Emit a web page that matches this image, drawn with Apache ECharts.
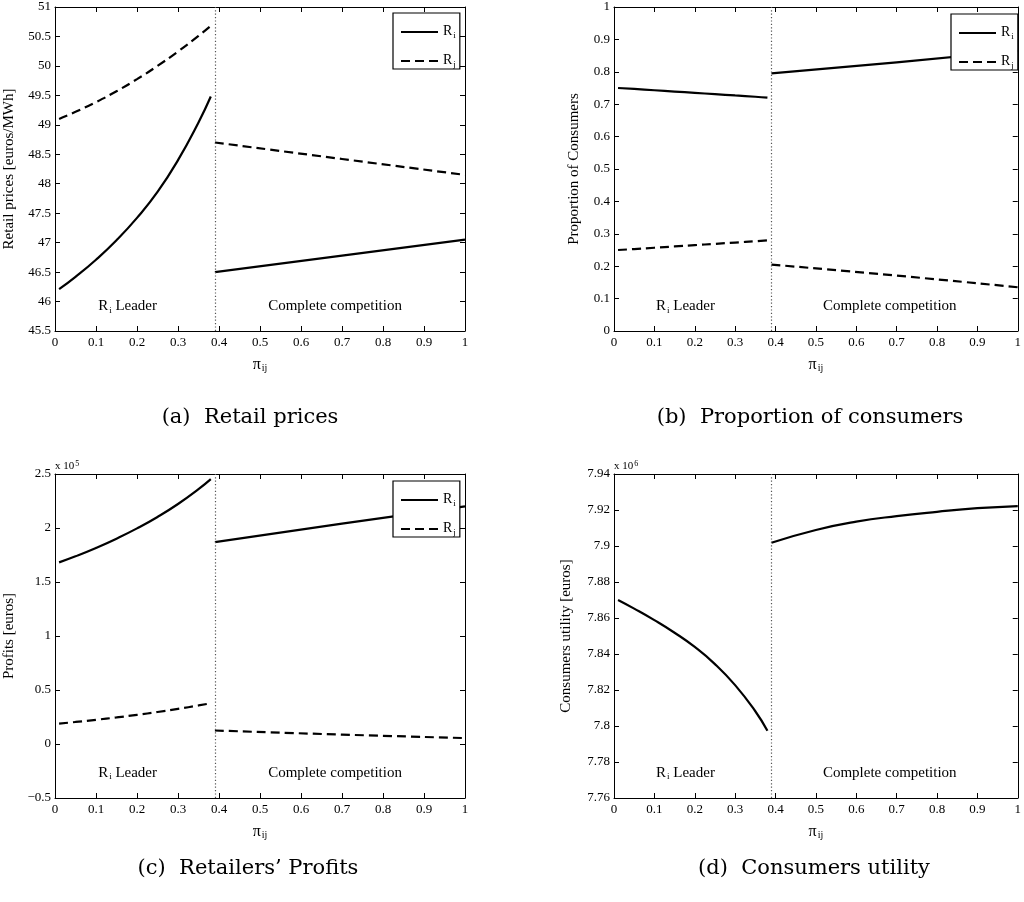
<!DOCTYPE html>
<html>
<head>
<meta charset="utf-8">
<script src="https://cdn.jsdelivr.net/npm/echarts@6/dist/echarts.min.js"></script>
<style>
  html, body { margin: 0; padding: 0; background: #fff; }
  #chart { width: 1024px; height: 902px; }
</style>
</head>
<body>
<div id="chart"></div>
<script>
// Market share parameter pi_ij on the horizontal axis
const xTicks = [0, 0.1, 0.2, 0.3, 0.4, 0.5, 0.6, 0.7, 0.8, 0.9, 1];
const xLeader = [0.01, 0.05, 0.1, 0.15, 0.2, 0.25, 0.3, 0.35, 0.38];
const xCompetition = [0.39, 0.5, 0.6, 0.7, 0.8, 0.9, 1.0];
const xCompetitionEnds = [0.39, 0.7, 1.0];
const regimeSwitch = 0.385;

// (a) Retail prices [euros/MWh]
const priceTicks = [45.5, 46, 46.5, 47, 47.5, 48, 48.5, 49, 49.5, 50, 50.5, 51];
const priceRiLeader = [46.21, 46.42, 46.71, 47.04, 47.42, 47.86, 48.4, 49.04, 49.48];
const priceRjLeader = [49.1, 49.22, 49.385, 49.57, 49.775, 50.0, 50.245, 50.51, 50.68];
const priceRiCompetition = [46.5, 46.78, 47.05];
const priceRjCompetition = [48.7, 48.42, 48.15];

// (b) Proportion of consumers
const shareTicks = [0, 0.1, 0.2, 0.3, 0.4, 0.5, 0.6, 0.7, 0.8, 0.9, 1];
const shareRiLeader = [0.75, 0.747, 0.743, 0.739, 0.735, 0.731, 0.727, 0.723, 0.72];
const shareRjLeader = [0.25, 0.253, 0.257, 0.261, 0.265, 0.269, 0.273, 0.277, 0.28];
const shareRiCompetition = [0.795, 0.829, 0.865];
const shareRjCompetition = [0.205, 0.171, 0.135];

// (c) Retailers' profits [euros]
const profitTicks = [-50000, 0, 50000, 100000, 150000, 200000, 250000];
const profitRiLeader = [168200, 173800, 181550, 190150, 199650, 210250, 222250, 236000, 245300];
const profitRjLeader = [18900, 20400, 22400, 24600, 27000, 29600, 32500, 35700, 37700];
const profitRiCompetition = [187000, 204000, 220000];
const profitRjCompetition = [12500, 8700, 5500];

// (d) Consumers utility [euros]
const utilityTicks = [7760000, 7780000, 7800000, 7820000, 7840000, 7860000, 7880000, 7900000, 7920000, 7940000];
const utilityLeader = [7870000, 7865200, 7858800, 7851800, 7843900, 7834400, 7822700, 7808200, 7797400];
const utilityCompetition = [7901800, 7908900, 7913500, 7916600, 7919000, 7921000, 7922200];

const SERIF = 'Liberation Serif';
const BLACK = '#000';

function pairs(xs, ys) {
  return xs.map((x, i) => [x, ys[i]]);
}

const subRich = {
  r: { fontFamily: SERIF, fontSize: 14, color: BLACK, lineHeight: 16, verticalAlign: 'top' },
  s: { fontFamily: SERIF, fontSize: 9, color: BLACK, lineHeight: 9, verticalAlign: 'bottom', padding: [16, 0, 0, 1] }
};

const grids = [
  { left: 55, top: 7, width: 410, height: 324 },
  { left: 614, top: 7, width: 409, height: 324 },
  { left: 55, top: 474, width: 410, height: 324 },
  { left: 614, top: 474, width: 409, height: 324 }
];

const panels = [
  {
    ticks: priceTicks, name: 'Retail prices [euros/MWh]', nameGap: 38, scale: 1,
    lines: [
      { name: 'Ri', dashed: false, leader: priceRiLeader, xComp: xCompetitionEnds, comp: priceRiCompetition },
      { name: 'Rj', dashed: true, leader: priceRjLeader, xComp: xCompetitionEnds, comp: priceRjCompetition }
    ],
    noteY: 45.91
  },
  {
    ticks: shareTicks, name: 'Proportion of Consumers', nameGap: 32, scale: 1,
    lines: [
      { name: 'Ri', dashed: false, leader: shareRiLeader, xComp: xCompetitionEnds, comp: shareRiCompetition },
      { name: 'Rj', dashed: true, leader: shareRjLeader, xComp: xCompetitionEnds, comp: shareRjCompetition }
    ],
    noteY: 0.074
  },
  {
    ticks: profitTicks, name: 'Profits [euros]', nameGap: 38, scale: 1e5,
    lines: [
      { name: 'Ri', dashed: false, leader: profitRiLeader, xComp: xCompetitionEnds, comp: profitRiCompetition },
      { name: 'Rj', dashed: true, leader: profitRjLeader, xComp: xCompetitionEnds, comp: profitRjCompetition }
    ],
    noteY: -27400
  },
  {
    ticks: utilityTicks, name: 'Consumers utility [euros]', nameGap: 40, scale: 1e6,
    lines: [
      { name: 'Ri', dashed: false, leader: utilityLeader, xComp: xCompetition, comp: utilityCompetition }
    ],
    noteY: 7773600
  }
];

const xAxes = [];
const yAxes = [];
const series = [];

const axisLineStyle = { color: BLACK, width: 1 };
const tickStyle = { inside: true, length: 5, lineStyle: { color: BLACK, width: 1 } };

function fmtTick(v, scale) {
  const s = String(+(v / scale).toFixed(6));
  return s.replace('-', '\u2212');
}

panels.forEach((p, i) => {
  const xBase = {
    type: 'value', gridIndex: i,
    min: xTicks[0], max: xTicks[xTicks.length - 1], interval: xTicks[1] - xTicks[0],
    axisLine: { show: true, onZero: false, lineStyle: axisLineStyle },
    axisTick: tickStyle, splitLine: { show: false }
  };
  xAxes.push(Object.assign({}, xBase, {
    position: 'bottom',
    axisLabel: { color: BLACK, fontFamily: SERIF, fontSize: 13, margin: 5,
      formatter: v => fmtTick(v, 1) },
    name: '{p|\u03c0}{s|ij}', nameLocation: 'middle', nameGap: 19,
    nameTextStyle: {
      rich: {
        p: { fontFamily: SERIF, fontSize: 16, color: BLACK, lineHeight: 16, verticalAlign: 'top' },
        s: { fontFamily: SERIF, fontSize: 10, color: BLACK, lineHeight: 10, verticalAlign: 'bottom', padding: [13, 0, 0, 1] }
      }
    }
  }));
  xAxes.push(Object.assign({}, xBase, {
    position: 'top', axisLabel: { show: false }
  }));

  const t = p.ticks;
  const yBase = {
    type: 'value', gridIndex: i,
    min: t[0], max: t[t.length - 1], interval: t[1] - t[0],
    axisLine: { show: true, onZero: false, lineStyle: axisLineStyle },
    axisTick: tickStyle, splitLine: { show: false }
  };
  yAxes.push(Object.assign({}, yBase, {
    position: 'left',
    axisLabel: { color: BLACK, fontFamily: SERIF, fontSize: 13, margin: 4,
      formatter: v => fmtTick(v, p.scale) },
    name: p.name, nameLocation: 'middle', nameGap: p.nameGap, nameRotate: 90,
    nameTextStyle: { color: BLACK, fontFamily: SERIF, fontSize: 15 }
  }));
  yAxes.push(Object.assign({}, yBase, {
    position: 'right', axisLabel: { show: false }
  }));

  p.lines.forEach((ln, k) => {
    const style = { color: BLACK, width: 2.2, type: ln.dashed ? [9, 5] : 'solid' };
    const common = {
      type: 'line', name: ln.name, xAxisIndex: 2 * i, yAxisIndex: 2 * i,
      symbol: 'none', showSymbol: false, smooth: 0.5,
      lineStyle: style, itemStyle: { color: BLACK }, z: 3
    };
    const leaderSeries = Object.assign({}, common, { data: pairs(xLeader, ln.leader) });
    const compSeries = Object.assign({}, common, { data: pairs(ln.xComp, ln.comp) });
    if (k === 0) {
      leaderSeries.markLine = {
        symbol: 'none', silent: true, animation: false,
        label: { show: false },
        lineStyle: { type: [1.2, 2.2], color: '#555', width: 1.2 },
        data: [{ xAxis: regimeSwitch }]
      };
      leaderSeries.markPoint = {
        symbol: 'circle', symbolSize: 0, silent: true,
        label: {
          show: true, position: 'inside', color: BLACK,
          rich: {
            r: { fontFamily: SERIF, fontSize: 15, color: BLACK, lineHeight: 16, verticalAlign: 'top' },
            s: { fontFamily: SERIF, fontSize: 9, color: BLACK, lineHeight: 9, verticalAlign: 'bottom', padding: [16, 0, 0, 1] },
            t: { fontFamily: SERIF, fontSize: 15, color: BLACK, lineHeight: 16, verticalAlign: 'top' }
          }
        },
        data: [
          { coord: [0.177, p.noteY], label: { formatter: '{r|R}{s|i}{t| Leader}' } },
          { coord: [0.683, p.noteY], label: { formatter: '{t|Complete competition}' } }
        ]
      };
    }
    series.push(leaderSeries, compSeries);
  });
});

function legendAt(left, top) {
  return {
    data: ['Ri', 'Rj'], orient: 'vertical', left: left, top: top,
    selectedMode: false,
    backgroundColor: '#fff', borderColor: BLACK, borderWidth: 1.2,
    padding: [2, 4, 0, 7], itemGap: 4, itemWidth: 37, itemHeight: 14,
    itemStyle: { opacity: 0 },
    formatter: n => '{r|R}{s|' + n.slice(1) + '}',
    textStyle: { rich: subRich }
  };
}

const CAPTION_FONT = '21px "DejaVu Serif"';
const captions = [
  { text: '(a)  Retail prices', x: 250, y: 418 },
  { text: '(b)  Proportion of consumers', x: 810, y: 418 },
  { text: "(c)  Retailers\u2019 Profits", x: 248, y: 869 },
  { text: '(d)  Consumers utility', x: 814, y: 869 }
];

const graphic = captions.map(c => ({
  type: 'text', x: c.x, y: c.y, silent: true,
  style: {
    text: c.text, fill: BLACK, font: CAPTION_FONT,
    textAlign: 'center', textVerticalAlign: 'middle'
  }
}));

[[55, 466, '5'], [614, 466, '6']].forEach(([x, y, e]) => {
  graphic.push({
    type: 'text', x: x, y: y, silent: true,
    style: {
      text: '{a|x 10}{e|' + e + '}',
      textVerticalAlign: 'middle',
      rich: {
        a: { fontFamily: SERIF, fontSize: 11, fill: BLACK, lineHeight: 12, verticalAlign: 'bottom' },
        e: { fontFamily: SERIF, fontSize: 8, fill: BLACK, lineHeight: 8, verticalAlign: 'top', padding: [0, 0, 6, 1] }
      }
    }
  });
});

const chart = echarts.init(document.getElementById('chart'), null, { renderer: 'canvas' });
chart.setOption({
  backgroundColor: '#fff',
  animation: false,
  grid: grids,
  xAxis: xAxes,
  yAxis: yAxes,
  legend: [legendAt(393, 13), legendAt(951, 14), legendAt(393, 481)],
  series: series,
  graphic: graphic
});
</script>
</body>
</html>
